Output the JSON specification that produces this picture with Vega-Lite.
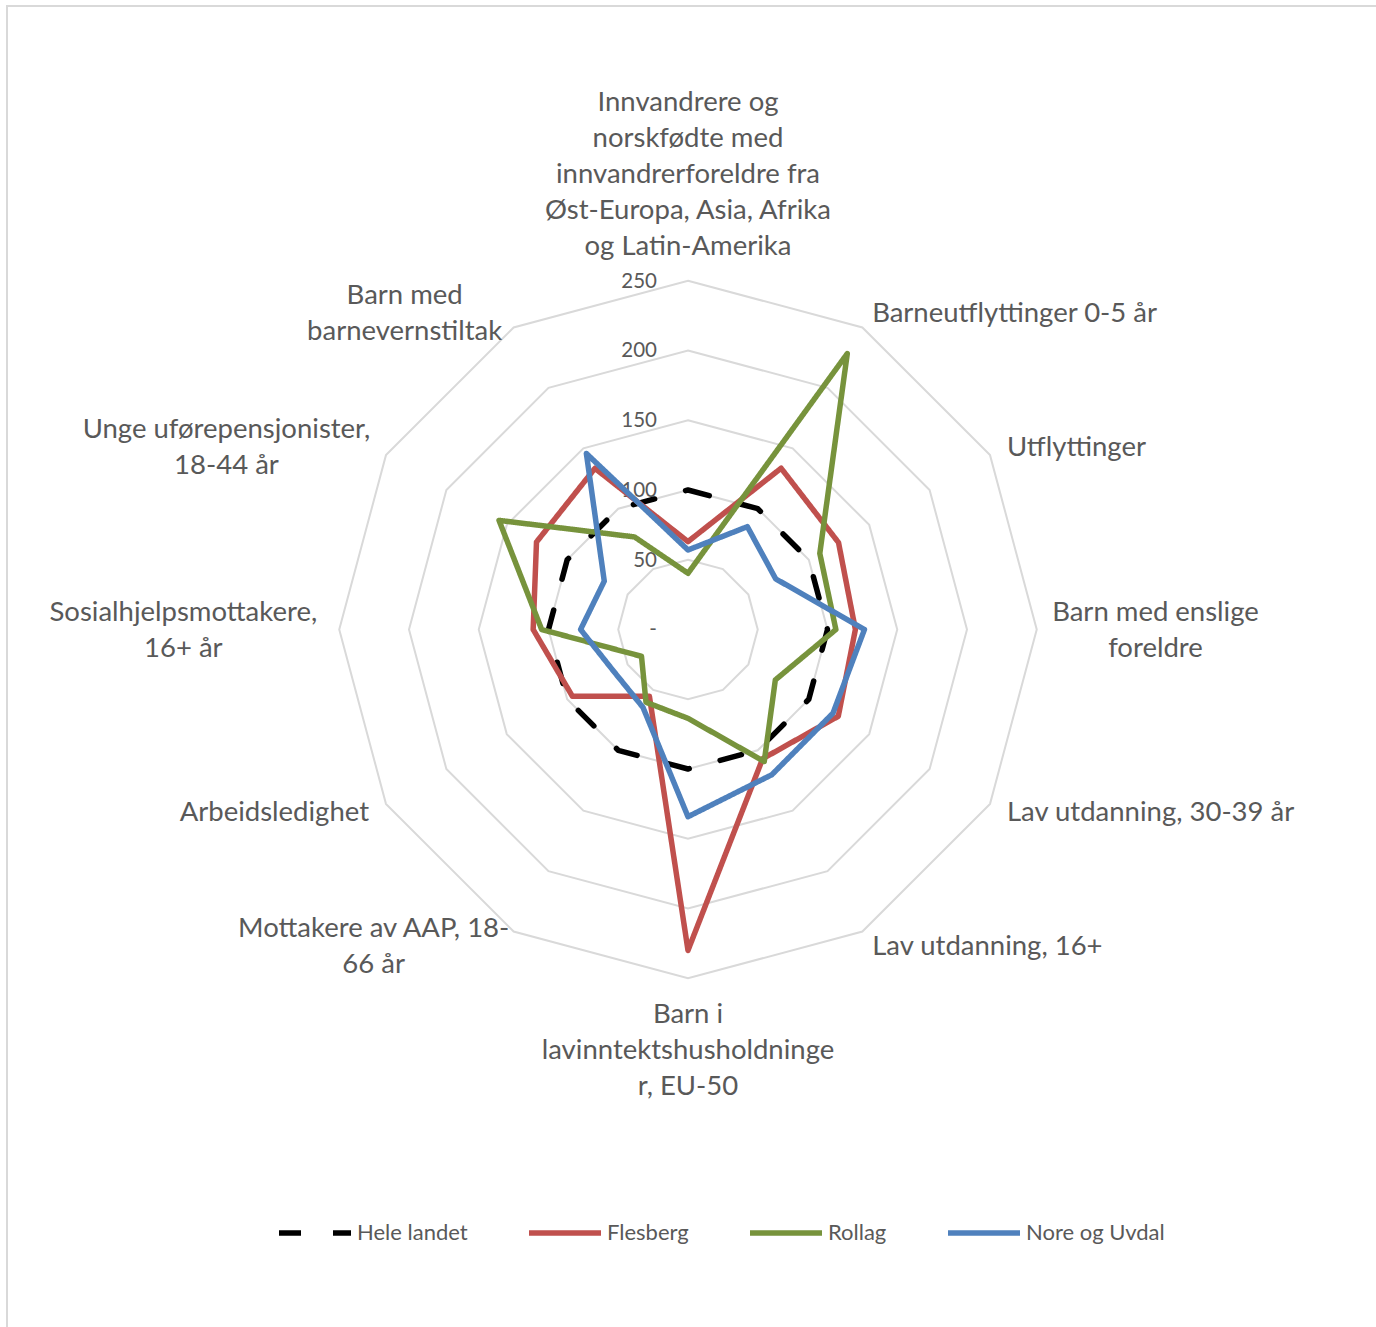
{
  "$schema": "https://vega.github.io/schema/vega-lite/v6.json",
  "width": 1373,
  "height": 1325,
  "autosize": {"type": "none"},
  "padding": {"left": 7, "top": 6, "right": -4, "bottom": -4},
  "background": "white",
  "config": {"view": {"stroke": "#d9d9d9", "strokeWidth": 2}, "font": "Lato"},
  "datasets": {
    "axes": [
      {"k": 0, "label": "Innvandrere og\nnorskfødte med\ninnvandrerforeldre fra\nØst-Europa, Asia, Afrika\nog Latin-Amerika"},
      {"k": 1, "label": "Barneutflyttinger 0-5 år"},
      {"k": 2, "label": "Utflyttinger"},
      {"k": 3, "label": "Barn med enslige\nforeldre"},
      {"k": 4, "label": "Lav utdanning, 30-39 år"},
      {"k": 5, "label": "Lav utdanning, 16+"},
      {"k": 6, "label": "Barn i\nlavinntektshusholdninge\nr, EU-50"},
      {"k": 7, "label": "Mottakere av AAP, 18-\n66 år"},
      {"k": 8, "label": "Arbeidsledighet"},
      {"k": 9, "label": "Sosialhjelpsmottakere,\n16+ år"},
      {"k": 10, "label": "Unge uførepensjonister,\n18-44 år"},
      {"k": 11, "label": "Barn med\nbarnevernstiltak"}
    ],
    "grid": [
      {"ring": 50, "k": [0,1,2,3,4,5,6,7,8,9,10,11]},
      {"ring": 100, "k": [0,1,2,3,4,5,6,7,8,9,10,11]},
      {"ring": 150, "k": [0,1,2,3,4,5,6,7,8,9,10,11]},
      {"ring": 200, "k": [0,1,2,3,4,5,6,7,8,9,10,11]},
      {"ring": 250, "k": [0,1,2,3,4,5,6,7,8,9,10,11]}
    ],
    "ticks": [
      {"v": 0, "t": "-"}, {"v": 50, "t": "50"}, {"v": 100, "t": "100"},
      {"v": 150, "t": "150"}, {"v": 200, "t": "200"}, {"v": 250, "t": "250"}
    ],
    "series": [
      {"s": "Hele landet", "k": 0, "v": 100}, {"s": "Hele landet", "k": 1, "v": 100},
      {"s": "Hele landet", "k": 2, "v": 100}, {"s": "Hele landet", "k": 3, "v": 100},
      {"s": "Hele landet", "k": 4, "v": 100}, {"s": "Hele landet", "k": 5, "v": 100},
      {"s": "Hele landet", "k": 6, "v": 100}, {"s": "Hele landet", "k": 7, "v": 100},
      {"s": "Hele landet", "k": 8, "v": 100}, {"s": "Hele landet", "k": 9, "v": 100},
      {"s": "Hele landet", "k": 10, "v": 100}, {"s": "Hele landet", "k": 11, "v": 100},
      {"s": "Flesberg", "k": 0, "v": 63}, {"s": "Flesberg", "k": 1, "v": 133.5},
      {"s": "Flesberg", "k": 2, "v": 124.6}, {"s": "Flesberg", "k": 3, "v": 120},
      {"s": "Flesberg", "k": 4, "v": 124.4}, {"s": "Flesberg", "k": 5, "v": 107},
      {"s": "Flesberg", "k": 6, "v": 230}, {"s": "Flesberg", "k": 7, "v": 55.3},
      {"s": "Flesberg", "k": 8, "v": 95.7}, {"s": "Flesberg", "k": 9, "v": 111},
      {"s": "Flesberg", "k": 10, "v": 125.4}, {"s": "Flesberg", "k": 11, "v": 133.4},
      {"s": "Rollag", "k": 0, "v": 40.3}, {"s": "Rollag", "k": 1, "v": 228.4},
      {"s": "Rollag", "k": 2, "v": 109.1}, {"s": "Rollag", "k": 3, "v": 106},
      {"s": "Rollag", "k": 4, "v": 72.3}, {"s": "Rollag", "k": 5, "v": 109.3},
      {"s": "Rollag", "k": 6, "v": 63.7}, {"s": "Rollag", "k": 7, "v": 60.2},
      {"s": "Rollag", "k": 8, "v": 38.5}, {"s": "Rollag", "k": 9, "v": 104.9},
      {"s": "Rollag", "k": 10, "v": 156.4}, {"s": "Rollag", "k": 11, "v": 76.6},
      {"s": "Nore og Uvdal", "k": 0, "v": 57}, {"s": "Nore og Uvdal", "k": 1, "v": 85.1},
      {"s": "Nore og Uvdal", "k": 2, "v": 72.6}, {"s": "Nore og Uvdal", "k": 3, "v": 126.5},
      {"s": "Nore og Uvdal", "k": 4, "v": 120}, {"s": "Nore og Uvdal", "k": 5, "v": 120.2},
      {"s": "Nore og Uvdal", "k": 6, "v": 134.2}, {"s": "Nore og Uvdal", "k": 7, "v": 64.5},
      {"s": "Nore og Uvdal", "k": 8, "v": 61}, {"s": "Nore og Uvdal", "k": 9, "v": 77},
      {"s": "Nore og Uvdal", "k": 10, "v": 69.3}, {"s": "Nore og Uvdal", "k": 11, "v": 145.7}
    ]
  },
  "layer": [
    {
      "data": {"name": "grid"},
      "transform": [
        {"flatten": ["k"]},
        {"calculate": "datum.ring * sin(datum.k * PI / 6)", "as": "x"},
        {"calculate": "datum.ring * cos(datum.k * PI / 6)", "as": "y"}
      ],
      "mark": {"type": "line", "interpolate": "linear-closed", "stroke": "#d9d9d9", "strokeWidth": 2},
      "encoding": {
        "x": {"field": "x", "type": "quantitative", "scale": {"domain": [-488.17, 496.06], "nice": false, "zero": false}, "axis": null},
        "y": {"field": "y", "type": "quantitative", "scale": {"domain": [-502.87, 446.95], "nice": false, "zero": false}, "axis": null},
        "detail": {"field": "ring", "type": "nominal"},
        "order": {"field": "k", "type": "quantitative"}
      }
    },
    {
      "data": {"name": "ticks"},
      "transform": [
        {"calculate": "0", "as": "x"},
        {"calculate": "datum.v", "as": "y"}
      ],
      "mark": {"type": "text", "align": "right", "baseline": "middle", "dx": -31, "dy": 1, "fontSize": 20.5, "color": "#595959"},
      "encoding": {
        "x": {"field": "x", "type": "quantitative", "axis": null},
        "y": {"field": "y", "type": "quantitative", "axis": null},
        "text": {"field": "t"}
      }
    },
    {
      "data": {"name": "series"},
      "transform": [
        {"calculate": "datum.v * sin(datum.k * PI / 6)", "as": "x"},
        {"calculate": "datum.v * cos(datum.k * PI / 6)", "as": "y"}
      ],
      "mark": {"type": "line", "interpolate": "linear-closed", "strokeWidth": 5.5, "strokeCap": "round", "strokeJoin": "round"},
      "encoding": {
        "x": {"field": "x", "type": "quantitative", "axis": null},
        "y": {"field": "y", "type": "quantitative", "axis": null},
        "order": {"field": "k", "type": "quantitative"},
        "color": {
          "field": "s", "type": "nominal",
          "scale": {"domain": ["Hele landet", "Flesberg", "Rollag", "Nore og Uvdal"], "range": ["#000000", "#C0504D", "#77933C", "#4F81BD"]},
          "legend": {"orient": "none", "legendX": 269, "legendY": 1188, "direction": "horizontal", "columns": 4, "title": null, "symbolType": "stroke", "symbolSize": 5184, "symbolStrokeWidth": 5.5, "labelFontSize": 22, "labelColor": "#595959", "labelFont": "Lato", "columnPadding": 50, "labelOffset": 3}
        },
        "strokeDash": {
          "field": "s", "type": "nominal",
          "scale": {"domain": ["Hele landet", "Flesberg", "Rollag", "Nore og Uvdal"], "range": [[22, 32], [1, 0], [1, 0], [1, 0]]}
        }
      }
    },
    {
      "data": {"name": "axes"},
      "transform": [
        {"calculate": "datum.k * PI / 6", "as": "a"},
        {"calculate": "length(split(datum.label, '\\n'))", "as": "n"},
        {"calculate": "max(length(split(datum.label, '\\n')[0]), length(split(datum.label, '\\n')[1] || ''))", "as": "mx"},
        {"calculate": "sin(datum.a) > 0.01 ? 1 : (sin(datum.a) < -0.01 ? -1 : 0)", "as": "side"},
        {"calculate": "264 * sin(datum.a) + (datum.n > 1 ? datum.side * datum.mx * 6.2 / 1.395 : 0)", "as": "x"},
        {"calculate": "264 * cos(datum.a) + (datum.k == 0 ? (datum.n - 1) * 36 / 1.395 : (datum.k == 6 ? -3 / 1.395 : ((datum.n - 1) * 18 + (cos(datum.a) > 0.1 ? -3 : (cos(datum.a) < -0.1 ? 1 : -2))) / 1.395))", "as": "y"}
      ],
      "mark": {
        "type": "text", "fontSize": 27.5, "color": "#595959", "lineBreak": "\n", "lineHeight": 36,
        "align": {"expr": "datum.side == 0 || datum.n > 1 ? 'center' : (datum.side > 0 ? 'left' : 'right')"},
        "baseline": {"expr": "datum.k == 0 ? 'bottom' : (datum.k == 6 ? 'top' : 'middle')"}
      },
      "encoding": {
        "x": {"field": "x", "type": "quantitative", "axis": null},
        "y": {"field": "y", "type": "quantitative", "axis": null},
        "text": {"field": "label"}
      }
    }
  ]
}
